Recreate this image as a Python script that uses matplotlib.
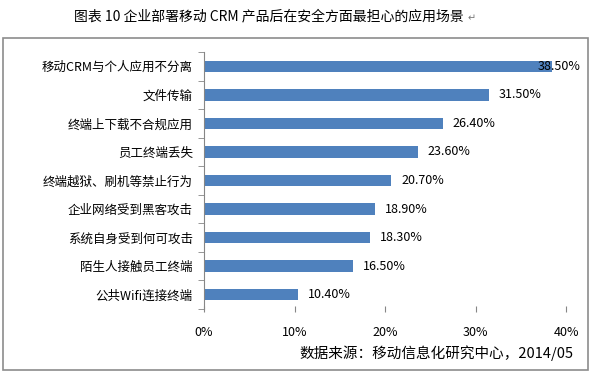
import matplotlib.pyplot as plt
from matplotlib.patches import Rectangle

plt.rcParams['font.family'] = ['Noto Sans CJK SC', 'DejaVu Sans']

# Data (top to bottom as shown)
categories = ["移动CRM与个人应用不分离", "文件传输", "终端上下载不合规应用", "员工终端丢失",
              "终端越狱、刷机等禁止行为", "企业网络受到黑客攻击", "系统自身受到何可攻击",
              "陌生人接触员工终端", "公共Wifi连接终端"]
values = [38.5, 31.5, 26.4, 23.6, 20.7, 18.9, 18.3, 16.5, 10.4]
xticks = [0, 10, 20, 30, 40]

fig = plt.figure(figsize=(5.92, 3.73), dpi=100)
fig.patches.append(Rectangle((3 / 592, 1 - 370 / 373), 585 / 592, 332 / 373,
                             transform=fig.transFigure, fill=False,
                             edgecolor='#8c8c8c', linewidth=1.2))
fig.text(269 / 592, 1 - 16 / 373, "图表 10 企业部署移动 CRM 产品后在安全方面最担心的应用场景",
         ha='center', va='center', fontsize=10)
fig.text(468 / 592, 1 - 18 / 373, "↵", ha='left', va='center', fontsize=7,
         color='#777777', family='DejaVu Sans')

ax = fig.add_axes([204 / 592, 1 - 309 / 373, 362 / 592, 257 / 373])
ypos = list(range(len(categories)))[::-1]
ax.barh(ypos, values, height=0.4, color='#4F81BD')
for y, v in zip(ypos, values):
    # labels sit just past the bar end; the longest one is pulled back onto the bar
    ax.text(min(v + 1.1, 36.9), y, f"{v:.2f}%", va='center', ha='left', fontsize=9)

ax.set_xlim(0, 40)
ax.set_ylim(-0.5, len(categories) - 0.5)
ax.set_xticks(xticks)
ax.set_xticklabels([f"{t}%" for t in xticks], fontsize=9)
ax.set_yticks(ypos)
ax.set_yticklabels(categories, fontsize=9)
ax.set_yticks([i - 0.5 for i in range(len(categories) + 1)], minor=True)

for s in ['top', 'right', 'bottom']:
    ax.spines[s].set_visible(False)
ax.spines['left'].set_color('#868686')
ax.tick_params(axis='y', which='major', length=0, pad=8)
ax.tick_params(axis='y', which='minor', length=4, direction='out', color='#868686')
ax.tick_params(axis='x', length=5, direction='inout', color='#868686', pad=10)

fig.text(573 / 592, 1 - 353 / 373, "数据来源：移动信息化研究中心，2014/05",
         ha='right', va='center', fontsize=10.5)

plt.savefig("out.png", dpi=100)
